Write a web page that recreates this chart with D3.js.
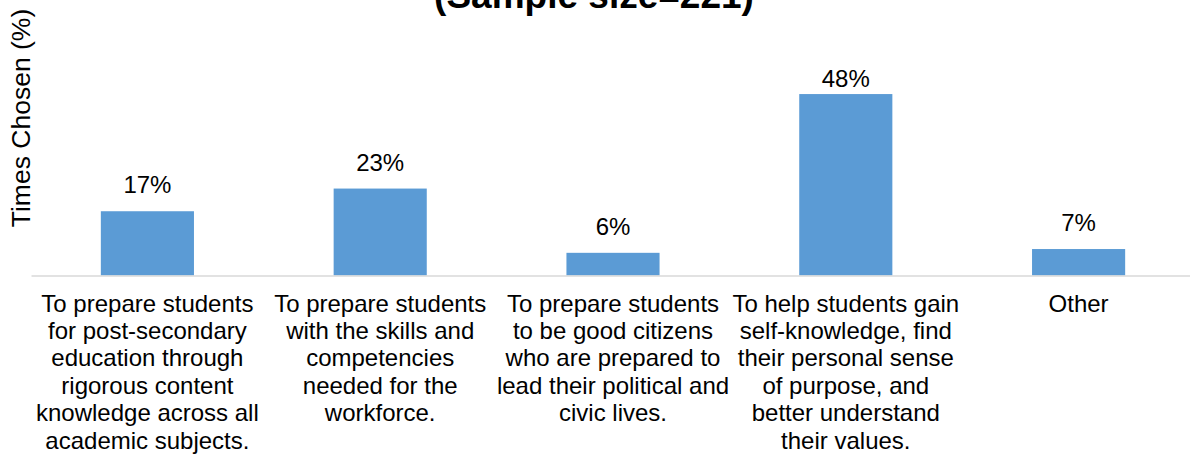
<!DOCTYPE html>
<html>
<head>
<meta charset="utf-8">
<script src="https://cdn.jsdelivr.net/npm/d3@7"></script>
<style>
  html, body { margin: 0; padding: 0; background: #fff; }
  svg { display: block; font-family: "Liberation Sans", Arial, Helvetica, sans-serif; }
</style>
</head>
<body>
<svg id="chart" width="1190" height="457"></svg>
<script>
const categories = [
  ["To prepare students", "for post-secondary", "education through", "rigorous content", "knowledge across all", "academic subjects."],
  ["To prepare students", "with the skills and", "competencies", "needed for the", "workforce."],
  ["To prepare students", "to be good citizens", "who are prepared to", "lead their political and", "civic lives."],
  ["To help students gain", "self-knowledge, find", "their personal sense", "of purpose, and", "better understand", "their values."],
  ["Other"]
];
const values = [17, 23, 6, 48, 7];
const valueLabels = ["17%", "23%", "6%", "48%", "7%"];
const titleText = "(Sample size=221)";
const yAxisTitle = "Times Chosen (%)";

const svg = d3.select("#chart");
const plotLeft = 31, plotRight = 1195, baseY = 275.5;

const x = d3.scaleBand()
  .domain(d3.range(values.length))
  .range([plotLeft, plotRight])
  .paddingInner(0.6)
  .paddingOuter(0.3);

const y = d3.scaleLinear()
  .domain([0, 60])
  .range([baseY, baseY - 60 * 3.78]);

// title (partially cut at top, as in the reference)
svg.append("text")
  .attr("x", 594)
  .attr("y", 8)
  .attr("text-anchor", "middle")
  .attr("font-size", 37)
  .attr("font-weight", "bold")
  .attr("fill", "#000")
  .text(titleText);

// y axis title
svg.append("text")
  .attr("transform", `translate(30,118) rotate(-90)`)
  .attr("text-anchor", "middle")
  .attr("font-size", 26.5)
  .attr("fill", "#000")
  .text(yAxisTitle);

// bars
svg.append("g").selectAll("rect")
  .data(values)
  .join("rect")
  .attr("x", (d, i) => x(i))
  .attr("width", x.bandwidth())
  .attr("y", d => y(d))
  .attr("height", d => baseY - y(d))
  .attr("fill", "#5B9BD5");

// axis line
const xAxis = d3.axisBottom(x).tickSize(0).tickFormat("");
const ax = svg.append("g").attr("transform", `translate(0,${baseY})`).call(xAxis);
ax.select(".domain").attr("stroke", "#D9D9D9").attr("stroke-width", 1.5);

// value labels
svg.append("g").selectAll("text")
  .data(values)
  .join("text")
  .attr("x", (d, i) => x(i) + x.bandwidth() / 2)
  .attr("y", d => Math.max(y(d) - 18, 86.5))
  .attr("text-anchor", "middle")
  .attr("font-size", 24)
  .attr("fill", "#000")
  .text((d, i) => valueLabels[i]);

// category labels
const catG = svg.append("g");
categories.forEach((lines, i) => {
  const t = catG.append("text")
    .attr("x", x(i) + x.bandwidth() / 2)
    .attr("y", 311.5)
    .attr("text-anchor", "middle")
    .attr("font-size", 24)
    .attr("fill", "#000");
  lines.forEach((ln, j) => {
    t.append("tspan")
      .attr("x", x(i) + x.bandwidth() / 2)
      .attr("dy", j === 0 ? 0 : 27.4)
      .text(ln);
  });
});
</script>
</body>
</html>
